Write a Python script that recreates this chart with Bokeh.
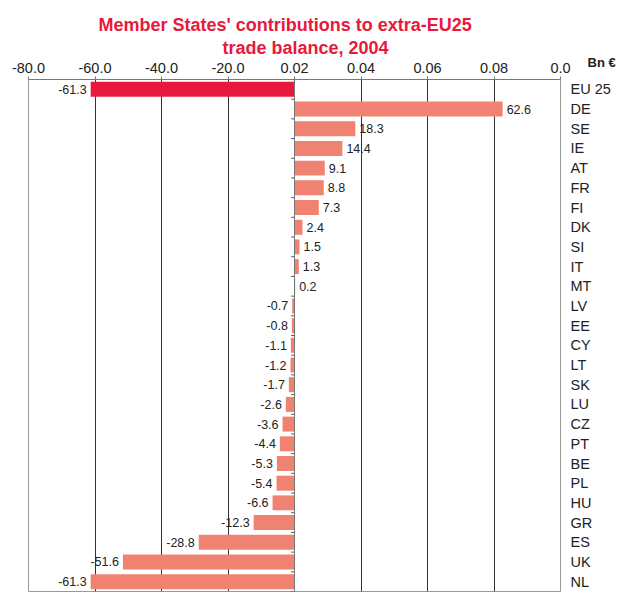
from bokeh.plotting import figure
from bokeh.models import Range1d, FixedTicker, Label, Span, ColumnDataSource, Title
from bokeh.core.properties import value
from bokeh.embed import file_html
from bokeh.resources import INLINE

countries = ["EU 25", "DE", "SE", "IE", "AT", "FR", "FI", "DK", "SI", "IT", "MT",
             "LV", "EE", "CY", "LT", "SK", "LU", "CZ", "PT", "BE", "PL", "HU",
             "GR", "ES", "UK", "NL"]
values = [-61.3, 62.6, 18.3, 14.4, 9.1, 8.8, 7.3, 2.4, 1.5, 1.3, 0.2,
          -0.7, -0.8, -1.1, -1.2, -1.7, -2.6, -3.6, -4.4, -5.3, -5.4, -6.6,
          -12.3, -28.8, -51.6, -61.3]
x_ticks = [-80, -60, -40, -20, 0, 20, 40, 60, 80]
x_tick_labels = ["-80.0", "-60.0", "-40.0", "-20.0", "0.02", "0.04", "0.06", "0.08", "0.0"]
title_lines = ["Member States' contributions to extra-EU25", "trade balance, 2004"]
unit_label = "Bn \u20ac"

FONT = "Liberation Sans"
RED = "#E8193C"
SALMON = "#F08272"

n = len(countries)
ys = list(range(n))
colors = [RED if c == "EU 25" else SALMON for c in countries]

src = ColumnDataSource(dict(y=ys, v=values, c=colors))

pos = [i for i in ys if values[i] >= 0]
neg = [i for i in ys if values[i] < 0]
src_pos = ColumnDataSource(dict(y=[ys[i] for i in pos], v=[values[i] for i in pos],
                                t=["%.1f" % values[i] for i in pos]))
src_neg = ColumnDataSource(dict(y=[ys[i] for i in neg], v=[values[i] for i in neg],
                                t=["%.1f" % values[i] for i in neg]))

p = figure(width=621, height=599, x_range=Range1d(-80, 80), y_range=Range1d(n - 0.5, -0.5),
           output_backend="svg", toolbar_location=None, title=None,
           x_axis_location="above", y_axis_location="right",
           min_border_left=28, min_border_right=61, min_border_top=79, min_border_bottom=8)
p.outline_line_color = "#999999"
p.background_fill_color = "white"
p.border_fill_color = "white"

# grid
p.ygrid.visible = False
p.xgrid.ticker = FixedTicker(ticks=[t for t in x_ticks if t not in (x_ticks[0], x_ticks[-1], 0)])
p.xgrid.grid_line_color = "#333333"
p.xgrid.grid_line_width = 1

# bars
p.hbar(y="y", left=0, right="v", height=0.76, fill_color="c", line_color=None, source=src)

# zero line and boundary ticks
p.add_layout(Span(location=0, dimension="height", line_color="#777777", line_width=1))
bounds = [i + 0.5 for i in range(n)]
p.segment(x0=[-1.0] * len(bounds), y0=bounds, x1=[0] * len(bounds), y1=bounds,
          line_color="#555555", line_width=1)

# value labels
p.text(x="v", y="y", text="t", source=src_pos, x_offset=4, text_align="left",
       text_baseline="middle", text_font=value(FONT), text_font_size="12.5px", text_color="#222222")
p.text(x="v", y="y", text="t", source=src_neg, x_offset=-4, text_align="right",
       text_baseline="middle", text_font=value(FONT), text_font_size="12.5px", text_color="#222222")

# top axis
xa = p.xaxis[0]
xa.ticker = FixedTicker(ticks=x_ticks)
xa.major_label_overrides = {t: l for t, l in zip(x_ticks, x_tick_labels)}
xa.major_label_text_font = FONT
xa.major_label_text_font_size = "14.5px"
xa.major_label_text_color = "#222222"
xa.axis_line_color = "#777777"
xa.major_tick_line_color = "#777777"
xa.major_tick_out = 3
xa.major_tick_in = 0
xa.minor_tick_line_color = None
xa.major_label_standoff = 4

# right category axis
ya = p.yaxis[0]
ya.ticker = FixedTicker(ticks=ys)
ya.major_label_overrides = {i: c for i, c in zip(ys, countries)}
ya.major_label_text_font = FONT
ya.major_label_text_font_size = "14.5px"
ya.major_label_text_color = "#222222"
ya.axis_line_color = None
ya.major_tick_line_color = None
ya.minor_tick_line_color = None
ya.major_label_standoff = 4

# titles
t2 = Title(text=title_lines[1], align="left", offset=194, text_font=FONT,
           text_font_size="18px", text_font_style="bold", text_color=RED, standoff=4)
t1 = Title(text=title_lines[0], align="left", offset=70, text_font=FONT,
           text_font_size="18px", text_font_style="bold", text_color=RED, standoff=-3)
p.add_layout(t2, "above")
p.add_layout(t1, "above")

# unit label in the (otherwise empty) left panel, positioned in canvas units
p.add_layout(Label(x=587, y=62, x_units="canvas", y_units="canvas", text=unit_label,
                   text_align="left", text_baseline="middle", text_font=FONT,
                   text_font_size="13px", text_font_style="bold", text_color="#222222"), "left")

open("out.html", "w").write(file_html(p, INLINE))
